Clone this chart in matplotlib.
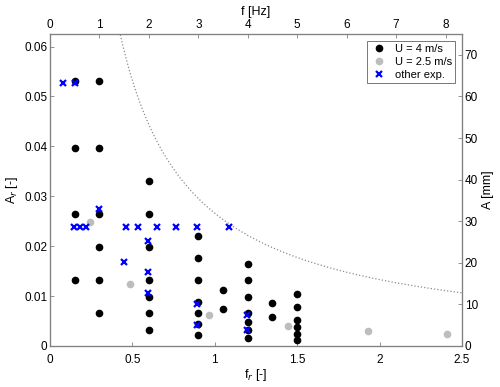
import numpy as np
import matplotlib.pyplot as plt

plt.rcParams['font.family'] = ['Liberation Sans', 'DejaVu Sans']

L = 1.2   # reference length [m]
U = 4.0   # reference velocity [m/s]

# ---------- data ----------
fr_u4 = [0.15, 0.15, 0.15, 0.15,
         0.3, 0.3, 0.3, 0.3, 0.3, 0.3,
         0.6, 0.6, 0.6, 0.6, 0.6, 0.6, 0.6,
         0.9, 0.9, 0.9, 0.9, 0.9, 0.9, 0.9,
         1.05, 1.05,
         1.2, 1.2, 1.2, 1.2, 1.2, 1.2, 1.2,
         1.35, 1.35,
         1.5, 1.5, 1.5, 1.5, 1.5, 1.5]
ar_u4 = [0.0531, 0.0397, 0.0264, 0.0132,
         0.0531, 0.0397, 0.0264, 0.0199, 0.0132, 0.0066,
         0.0331, 0.0264, 0.0199, 0.0132, 0.0099, 0.0066, 0.0033,
         0.0220, 0.0176, 0.0132, 0.0088, 0.0066, 0.0044, 0.0022,
         0.0112, 0.0075,
         0.0165, 0.0132, 0.0099, 0.0066, 0.0049, 0.0033, 0.0016,
         0.0087, 0.0058,
         0.0105, 0.0079, 0.0052, 0.0039, 0.0025, 0.0012]

fr_u25 = [0.243, 0.485, 0.965, 1.446, 1.928, 2.411]
ar_u25 = [0.0248, 0.0124, 0.0062, 0.0041, 0.0030, 0.0024]

fr_oth = [0.077, 0.152, 0.146, 0.180, 0.218, 0.461, 0.536, 0.651, 0.765, 0.894, 1.084,
          0.299, 0.449, 0.597, 0.597, 0.597, 0.894, 0.894, 1.193, 1.193]
ar_oth = [0.0527, 0.0527, 0.0239, 0.0239, 0.0239, 0.0239, 0.0239, 0.0239, 0.0239, 0.0239, 0.0239,
          0.0275, 0.0168, 0.0211, 0.0148, 0.0106, 0.0084, 0.0042, 0.0063, 0.0032]

curve_c = 0.0266   # A_r * f_r = const (dotted limit)

XMAX = 2.5
YMAX = 0.0625

# ---------- plot ----------
fig = plt.figure(figsize=(5, 3.87), dpi=100)
ax = fig.add_axes([0.1, 0.106, 0.824, 0.806])

fr_line = np.linspace(0.3, XMAX, 400)
ax.plot(fr_line, curve_c / fr_line, ':', color='#8c8c8c', lw=0.9)

ax.plot(fr_u4, ar_u4, 'o', color='black', ms=4.5, label='U = 4 m/s')
ax.plot(fr_u25, ar_u25, 'o', color='#bdbdbd', ms=4.5, label='U = 2.5 m/s')
ax.plot(fr_oth, ar_oth, 'x', color='#0000ff', ms=4.2, mew=1.6, label='other exp.')

ax.set_xlim(0, XMAX)
ax.set_ylim(0, YMAX)
ax.set_xticks([0, 0.5, 1, 1.5, 2, 2.5])
ax.set_xticklabels(['0', '0.5', '1', '1.5', '2', '2.5'])
ax.set_yticks([0, 0.01, 0.02, 0.03, 0.04, 0.05, 0.06])
ax.set_yticklabels(['0', '0.01', '0.02', '0.03', '0.04', '0.05', '0.06'])
ax.set_xlabel('f$_r$ [-]', fontsize=9, labelpad=1)
ax.set_ylabel('A$_r$ [-]', fontsize=9, labelpad=3)

# right axis: A in mm
ax2 = ax.twinx()
ax2.set_ylim(0, YMAX * L * 1000)
ax2.set_yticks(range(0, 80, 10))
ax2.set_ylabel('A [mm]', fontsize=9, labelpad=3)

# top axis: f in Hz
ax3 = ax.twiny()
ax3.set_xlim(0, XMAX * U / L)
ax3.set_xticks(range(0, 9))
ax3.set_xlabel('f [Hz]', fontsize=9, labelpad=3)

for a in (ax, ax2, ax3):
    for s in a.spines.values():
        s.set_color('#808080')
        s.set_linewidth(0.8)
    a.tick_params(direction='in', length=3, width=0.6, color='#808080',
                  labelsize=8.5, pad=2)
ax.tick_params(axis='x', pad=5.5)

leg = ax.legend(loc='upper right', fontsize=8, frameon=True, fancybox=False,
                edgecolor='#555555', borderpad=0.3, labelspacing=0.25,
                handletextpad=0.6, handlelength=1.6, borderaxespad=0.6)
leg.get_frame().set_linewidth(0.7)

fig.savefig('out.png', dpi=100)
